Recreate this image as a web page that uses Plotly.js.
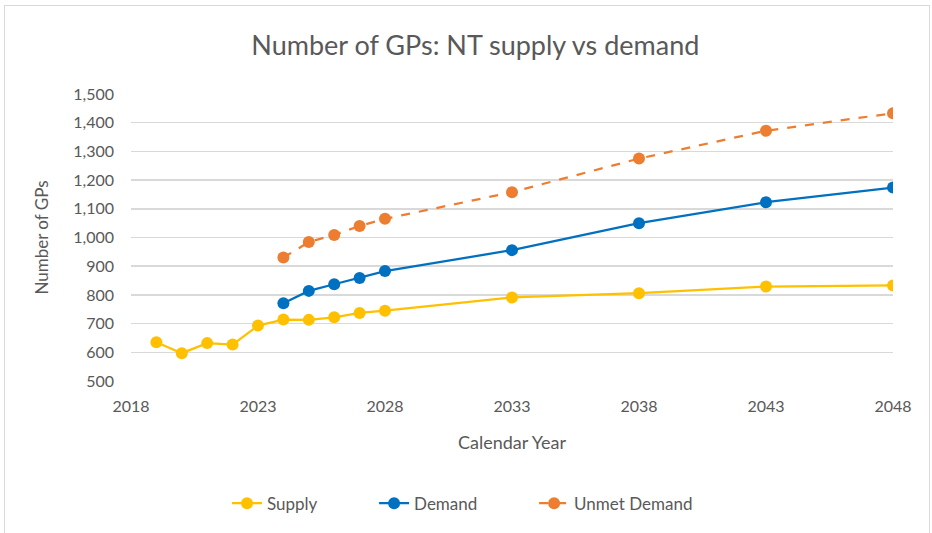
<!DOCTYPE html>
<html>
<head>
<meta charset="utf-8">
<script src="https://cdn.plot.ly/plotly-3.0.1.min.js"></script>
<style>
  html, body { margin: 0; padding: 0; background: #fff; }
  #wrap { position: relative; width: 932px; height: 533px; }
  #chart { width: 932px; height: 533px; }
  #frame { position: absolute; left: 4px; top: 5px; width: 924px; height: 540px; border: 1px solid #d9d9d9; pointer-events: none; }
</style>
</head>
<body>
<div id="wrap">
  <div id="chart"></div>
  <div id="frame"></div>
</div>
<script>
const supplyYears = [2019, 2020, 2021, 2022, 2023, 2024, 2025, 2026, 2027, 2028, 2033, 2038, 2043, 2048];
const supplyValues = [635, 597, 632, 627, 693, 714, 713, 722, 737, 745, 791, 806, 829, 833];
const demandYears = [2024, 2025, 2026, 2027, 2028, 2033, 2038, 2043, 2048];
const demandValues = [771, 814, 837, 859, 883, 956, 1050, 1123, 1174];
const unmetYears = [2024, 2025, 2026, 2027, 2028, 2033, 2038, 2043, 2048];
const unmetValues = [930, 984, 1009, 1040, 1065, 1158, 1275, 1372, 1433];
const xTicks = [2018, 2023, 2028, 2033, 2038, 2043, 2048];
const yTicks = [500, 600, 700, 800, 900, 1000, 1100, 1200, 1300, 1400, 1500];

const FONT = 'Lato, "Open Sans", sans-serif';
const GREY = '#595959';

const traces = [
  { x: supplyYears, y: supplyValues, name: 'Supply', type: 'scatter', mode: 'lines+markers', legend: 'legend',
    line: { color: '#FFC000', width: 2.25 }, marker: { color: '#FFC000', size: 12 } },
  { x: demandYears, y: demandValues, name: 'Demand', type: 'scatter', mode: 'lines+markers', legend: 'legend2',
    line: { color: '#0070C0', width: 2.25 }, marker: { color: '#0070C0', size: 12 } },
  { x: unmetYears, y: unmetValues, name: 'Unmet Demand', type: 'scatter', mode: 'lines+markers', legend: 'legend3',
    line: { color: '#ED7D31', width: 2.25, dash: 'dash' }, marker: { color: '#ED7D31', size: 12 } }
];

const legendBase = { orientation: 'h', xanchor: 'left', y: -0.36, yanchor: 'top', font: { size: 17, color: GREY }, bgcolor: 'rgba(0,0,0,0)' };

const layout = {
  width: 932, height: 533,
  margin: { l: 131, r: 39, t: 94, b: 151 },
  paper_bgcolor: '#fff', plot_bgcolor: '#fff',
  font: { family: FONT, color: GREY, size: 16 },
  title: { text: 'Number of GPs: NT supply vs demand', x: 0.51, xanchor: 'center', y: 0.915, yanchor: 'middle',
    font: { family: FONT, size: 27, color: GREY } },
  xaxis: {
    range: [2018, 2048], tickvals: xTicks, ticktext: xTicks.map(String),
    showgrid: false, zeroline: false, showline: false, ticks: '',
    tickfont: { size: 16, color: GREY }, ticklabelstandoff: 14,
    title: { text: 'Calendar Year', font: { size: 18, color: GREY }, standoff: 22 }
  },
  yaxis: {
    range: [500, 1500], tickvals: yTicks, tickformat: ',',
    showgrid: true, gridcolor: '#D9D9D9', gridwidth: 1.5, zeroline: false, showline: false, ticks: '',
    tickfont: { size: 16, color: GREY }, ticklabelstandoff: 16,
    title: { text: 'Number of GPs', font: { size: 17, color: GREY }, standoff: 20 }
  },
  showlegend: true,
  legend: Object.assign({}, legendBase, { x: 0.126 }),
  legend2: Object.assign({}, legendBase, { x: 0.319 }),
  legend3: Object.assign({}, legendBase, { x: 0.529 }),
  hovermode: false
};

Plotly.newPlot('chart', traces, layout, { displayModeBar: false, staticPlot: true });
</script>
</body>
</html>
